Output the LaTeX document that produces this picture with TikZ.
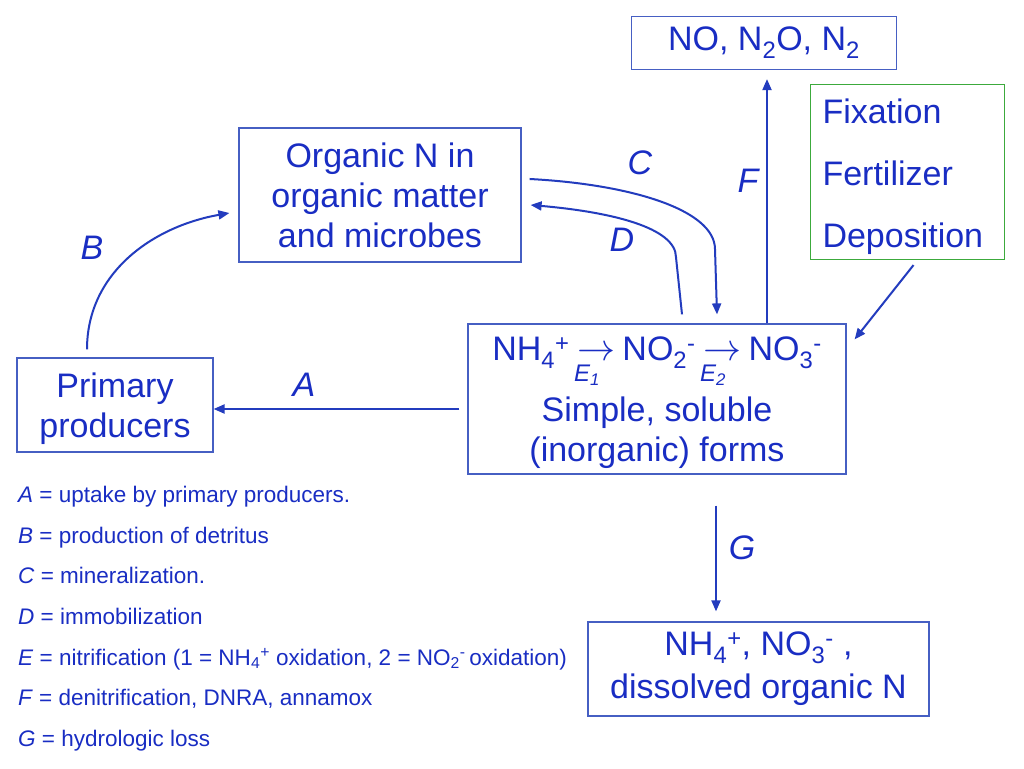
\documentclass[tikz,border=0pt]{standalone}
\usepackage{fontspec}
\setmainfont{Liberation Sans}
\usetikzlibrary{arrows.meta,calc}
\definecolor{nblue}{RGB}{25,45,195}
\definecolor{lineblue}{RGB}{35,60,190}
\definecolor{boxblue}{RGB}{70,95,195}
\definecolor{boxgreen}{RGB}{60,170,60}
\newcommand{\enz}[1]{\makebox[1em]{\fontsize{10}{12}\selectfont\scalebox{3.8}{$\rightarrow$}}\llap{\smash{\raisebox{-0.62em}{\makebox[1em][l]{\hspace{-5pt}\fontsize{24}{24}\selectfont\itshape E\textsubscript{#1}}}}}}
\newcommand{\nodepth}[1]{\raisebox{0pt}[\height][0pt]{#1}}
\begin{document}
\begin{tikzpicture}[x=1pt,y=1pt,
    every node/.style={text=nblue},
    pool/.style={draw=boxblue,line width=1.2pt,align=center,inner sep=0pt,font=\fontsize{34}{40}\selectfont},
    flow/.style={draw=lineblue,line width=2pt,-{Triangle[length=11pt,width=9pt]}},
    lab/.style={font=\fontsize{34}{40}\selectfont\itshape},
    leg/.style={anchor=base west,inner sep=0pt,font=\fontsize{22.5}{26}\selectfont}]
  \useasboundingbox[fill=white] (0,0) rectangle (1024,768);

  \node[pool,minimum width=282pt,minimum height=134pt](organic) at (380,573) {Organic N in\\organic matter\\and microbes};
  \node[pool,minimum width=196pt,minimum height=94pt](prim) at (115,363) {Primary\\\nodepth{producers}};
  \node[pool,minimum width=378pt,minimum height=150pt](simple) at (657,369) {NH\textsubscript{4}\textsuperscript{+} \enz{1} NO\textsubscript{2}\textsuperscript{-} \enz{2} NO\textsubscript{3}\textsuperscript{-}\\[21pt]Simple, soluble\\\nodepth{(inorganic) forms}};
  \node[pool,minimum width=265pt,minimum height=53pt](gas) at (764,725) {NO, N\textsubscript{2}O, N\textsubscript{2}};
  \node[pool,draw=boxgreen,align=left,text width=170pt,inner xsep=12pt,minimum height=175pt,font=\fontsize{34}{62}\selectfont](inputs) at (907.5,596) {\rule{0pt}{28pt}Fixation\\Fertilizer\\\nodepth{Deposition}};
  \node[pool,minimum width=341pt,minimum height=94pt](loss) at (758.5,99) {NH\textsubscript{4}\textsuperscript{+}, NO\textsubscript{3}\textsuperscript{-} ,\\[3pt]dissolved organic N};

  \foreach \n/\x/\y in {A/304/383, B/92/520, C/640/605, D/622/528, F/748/587, G/742/220} {
    \node[lab](l\n) at (\x,\y) {\n};
  }

  \draw[flow] ($(simple.west)+(-8,-10)$) -- ($(prim.east)+(0,-4)$);
  \draw[flow] ($(prim.north)+(-28,8)$) to[out=90,in=190] ($(organic.west)+(-9,-18)$);
  \draw[flow] ($(organic.east)+(8,16)$) to[out=-3,in=90,out distance=100pt,in distance=40pt] ($(simple.north)+(58,74)$) -- ($(simple.north)+(60,9)$);
  \draw[flow] ($(simple.north)+(25,9)$) -- ($(simple.north)+(19,66)$) to[out=90,in=-5,out distance=30pt,in distance=80pt] ($(organic.east)+(9,-10)$);
  \draw[flow] ($(simple.north)+(110,0)$) -- ($(gas.south)+(3,-9)$);
  \draw[flow] ($(inputs.south)+(6,-5)$) -- ($(simple.north east)+(8,-16)$);
  \draw[flow] ($(simple.south)+(59,-31)$) -- ($(loss.north)+(-42.5,10)$);

  \foreach \k/\txt [count=\i] in {A/{uptake by primary producers.}, B/{production of detritus}, C/{mineralization.}, D/{immobilization}, E/{nitrification (1 = NH\textsubscript{4}\textsuperscript{+} oxidation, 2 = NO\textsubscript{2}\textsuperscript{-}\,oxidation)}, F/{denitrification, DNRA, annamox}, G/{hydrologic loss}} {
    \node[leg](key\k) at (18,{265-40.5*(\i-1)}) {\textit{\k} = \txt};
  }
\end{tikzpicture}
\end{document}
